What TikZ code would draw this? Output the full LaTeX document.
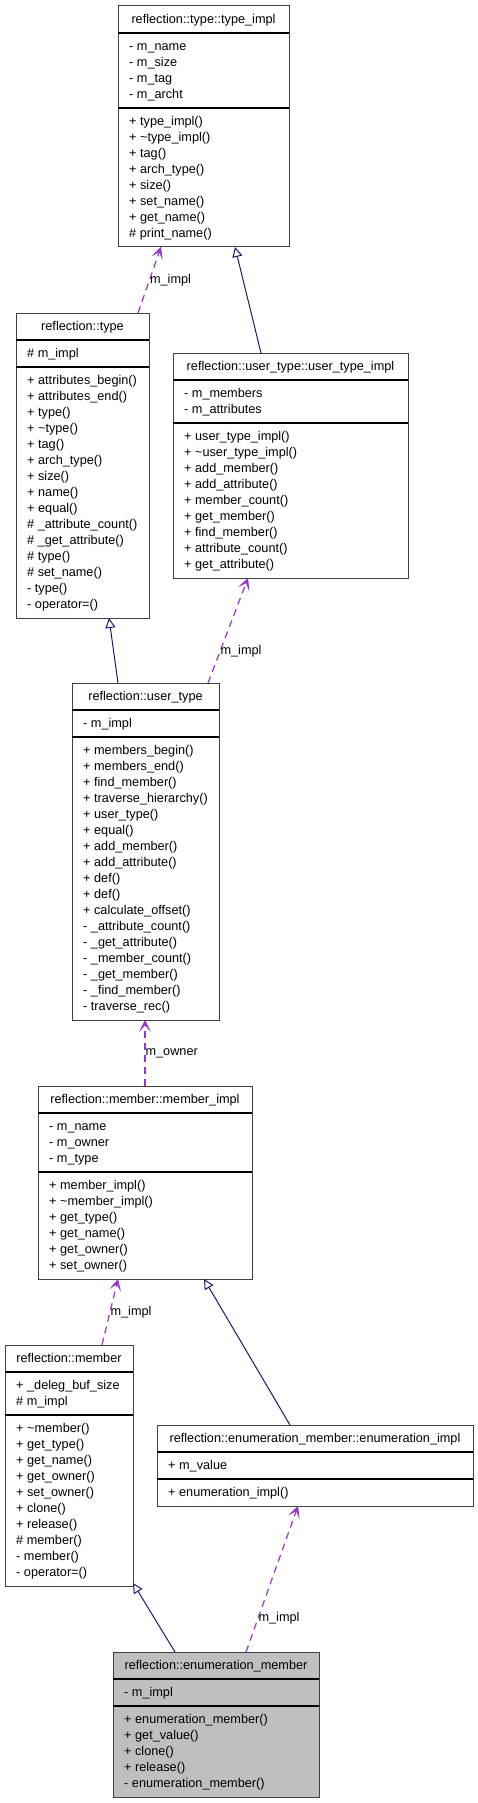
\documentclass[tikz,border=0pt]{standalone}
\usepackage{fontspec}
\setmainfont{Liberation Sans}
\usetikzlibrary{arrows.meta,calc}
\definecolor{navyline}{RGB}{25,25,112}
\definecolor{usecol}{RGB}{154,50,205}
\definecolor{hilite}{RGB}{191,191,191}
\tikzset{
  classbox/.style={draw=black!75, line width=1pt, inner sep=0pt, outer sep=0pt},
  sepline/.style={draw=black, line width=1.3pt},
  rowtext/.style={font=\fontsize{12.7}{16}\selectfont, inner sep=0pt, anchor=base west},
  inherit/.style={draw=navyline, line width=1pt, -{Triangle[open, length=10pt, width=10pt, fill=white]}},
  usage/.style={draw=usecol, line width=1.2pt, dash pattern=on 7pt off 5pt,
    -{Stealth[length=12pt, width=12pt, inset=6.5pt, line width=0.6pt, sep=0pt]}},
  lbl/.style={font=\fontsize{12.7}{16}\selectfont, inner sep=0pt, anchor=west, text=black}
}
\newcommand\countitems[1]{\gdef\nitems{0}\foreach \x [count=\c] in {#1} {\xdef\nitems{\c}}}
% [fill]{name}{x1}{x2}{ytop}{title}{attrs}{methods}
\newcommand\umlbox[8][white]{%
  \countitems{#7}\let\nA\nitems
  \countitems{#8}\let\nM\nitems
  \pgfmathsetmacro\sA{#5+27}%
  \pgfmathsetmacro\sB{\sA+16*\nA+11}%
  \pgfmathsetmacro\yB{\sB+16*\nM+11}%
  \pgfmathsetmacro\bw{#4-#3}%
  \pgfmathsetmacro\bh{\yB-#5}%
  \node[classbox, fill=#1, minimum width=\bw pt, minimum height=\bh pt, anchor=north west] (#2) at (#3,#5) {};
  \draw[sepline] (#3,\sA) -- (#4,\sA) (#3,\sB) -- (#4,\sB);
  \node[rowtext, anchor=base] (#2-title) at ({(#3+#4)/2}, #5+17.5) {#6};
  \foreach \t [count=\i from 0] in {#7} \node[rowtext] (#2-a\i) at (#3+11, \sA+17.5+16*\i) {\t};
  \foreach \t [count=\i from 0] in {#8} \node[rowtext] (#2-m\i) at (#3+11, \sB+17.5+16*\i) {\t};
}
\begin{document}
\begin{tikzpicture}[x=1pt,y=-1pt]
\useasboundingbox (0,0) rectangle (477,1803);

\umlbox{typeimpl}{118}{289}{6}{reflection::type::type\_impl}
  {- m\_name, - m\_size, - m\_tag, - m\_archt}
  {+ type\_impl(), + \textasciitilde type\_impl(), + tag(), + arch\_type(), + size(), + set\_name(), + get\_name(), \# print\_name()}

\umlbox{type}{16}{149}{313}{reflection::type}
  {\# m\_impl}
  {+ attributes\_begin(), + attributes\_end(), + type(), + \textasciitilde type(), + tag(), + arch\_type(), + size(), + name(), + equal(), \# \_attribute\_count(), \# \_get\_attribute(), \# type(), \# set\_name(), - type(), - operator=()}

\umlbox{usertypeimpl}{173}{408}{353}{reflection::user\_type::user\_type\_impl}
  {- m\_members, - m\_attributes}
  {+ user\_type\_impl(), + \textasciitilde user\_type\_impl(), + add\_member(), + add\_attribute(), + member\_count(), + get\_member(), + find\_member(), + attribute\_count(), + get\_attribute()}

\umlbox{usertype}{72}{219}{683}{reflection::user\_type}
  {- m\_impl}
  {+ members\_begin(), + members\_end(), + find\_member(), + traverse\_hierarchy(), + user\_type(), + equal(), + add\_member(), + add\_attribute(), + def(), + def(), + calculate\_offset(), - \_attribute\_count(), - \_get\_attribute(), - \_member\_count(), - \_get\_member(), - \_find\_member(), - traverse\_rec()}

\umlbox{memberimpl}{38}{252}{1086}{reflection::member::member\_impl}
  {- m\_name, - m\_owner, - m\_type}
  {+ member\_impl(), + \textasciitilde member\_impl(), + get\_type(), + get\_name(), + get\_owner(), + set\_owner()}

\umlbox{member}{5}{133}{1345}{reflection::member}
  {+ \_deleg\_buf\_size, \# m\_impl}
  {+ \textasciitilde member(), + get\_type(), + get\_name(), + get\_owner(), + set\_owner(), + clone(), + release(), \# member(), - member(), - operator=()}

\umlbox{enumimpl}{157}{473}{1425}{reflection::enumeration\_member::enumeration\_impl}
  {+ m\_value}
  {+ enumeration\_impl()}

\umlbox[hilite]{enummember}{113}{319}{1652}{reflection::enumeration\_member}
  {- m\_impl}
  {+ enumeration\_member(), + get\_value(), + clone(), + release(), - enumeration\_member()}

% inheritance
\draw[inherit] ($(usertypeimpl.north west)+(88,0)$) -- ($(typeimpl.south west)+(117,0)$);
\draw[inherit] ($(usertype.north west)+(46,0)$) -- ($(type.south west)+(93,0)$);
\draw[inherit] ($(enumimpl.north west)+(133,0)$) -- ($(memberimpl.south west)+(166,0)$);
\draw[inherit] ($(enummember.north west)+(62,0)$) -- ($(member.south east)+(0,-3)$);

% usage
\draw[usage] ($(type.north west)+(122,0)$) -- node[lbl, pos=0.5] (l1) {m\_impl} ($(typeimpl.south west)+(43,0)$);
\draw[usage] ($(usertype.north west)+(136,0)$) -- node[lbl, pos=0.3] (l2) {m\_impl} ($(usertypeimpl.south west)+(75,0)$);
\draw[usage] ($(memberimpl.north west)+(107,0)$) -- node[lbl, pos=0.5] (l3) {m\_owner} ($(usertype.south west)+(73,0)$);
\draw[usage] ($(member.north west)+(97,0)$) -- node[lbl, pos=0.5] (l4) {m\_impl} ($(memberimpl.south west)+(80,0)$);
\draw[usage] ($(enummember.north west)+(133,0)$) -- node[lbl, pos=0.23] (l5) {m\_impl} ($(enumimpl.south west)+(141,0)$);
\end{tikzpicture}
\end{document}
